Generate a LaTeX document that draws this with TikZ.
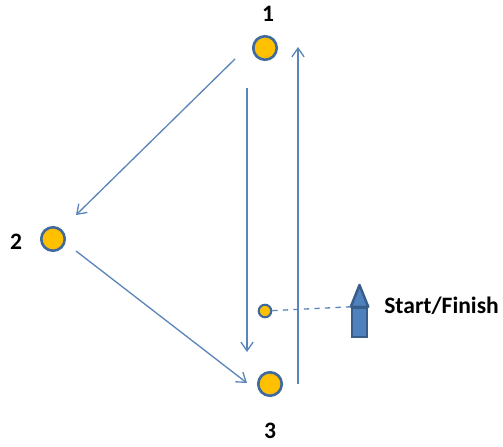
\documentclass[tikz,border=0pt]{standalone}
\usepackage{fontspec}
\setmainfont{Carlito}
\usetikzlibrary{arrows.meta}
\definecolor{legblue}{HTML}{5B85B8}
\definecolor{markline}{HTML}{416A9C}
\definecolor{markfill}{HTML}{FFC000}
\definecolor{boatfill}{HTML}{4F81BD}
\definecolor{boatline}{HTML}{385D8A}
\begin{document}
\begin{tikzpicture}[x=0.02cm,y=-0.02cm,->,>={Straight Barb[length=5pt,width=7pt]},
            leg/.style={legblue,line width=0.75pt},
            mark node/.style={circle,draw=markline,fill=markfill,line width=1.5pt,inner sep=0pt,minimum size=23.5*0.02cm},
            small mark/.style={mark node,line width=1.2pt,minimum size=12.5*0.02cm},
            main node/.style={font=\bfseries\fontsize{13.4}{16}\selectfont,inner sep=0pt},
            boat/.style={draw=boatline,fill=boatfill,line width=1.4pt}]
        \useasboundingbox (0,0) rectangle (503,446);

        % Define marks
        \node[mark node] (mark1) at (265,48) {};
        \node[mark node] (mark2) at (53,239) {};
        \node[mark node] (mark3) at (270,384) {};
        \node[small mark] (start) at (265,311) {};

        % Define labels
        \node[main node] (label1) at (268,14) {1};
        \node[main node] (label2) at (16,242) {2};
        \node[main node] (label3) at (270,431) {3};
        \node[main node,anchor=west] (finish) at (384,306) {Start/Finish};

        % Define boat
        \node[boat,rectangle,inner sep=0pt,minimum width=15*0.02cm,minimum height=29*0.02cm] (hull) at (359.5,322.5) {};
        \draw[boat,-,line join=round] (hull.north west) -- (359.5,285) -- (hull.north east) -- cycle;

        % Define leg ends
        \coordinate (leg1a) at (235,59);
        \coordinate (leg1b) at (76,215);
        \coordinate (leg2a) at (76,251);
        \coordinate (leg2b) at (247,383);
        \coordinate (leg3a) at (247,88);
        \coordinate (leg3b) at (247,352);
        \coordinate (leg4a) at (298,384);
        \coordinate (leg4b) at (298,47);

        % Draw edges
        \path[leg]
            (leg1a) edge (leg1b)
            (leg2a) edge (leg2b)
            (leg3a) edge (leg3b)
            (leg4a) edge (leg4b);
        \draw[leg,-,dashed] (start) -- (hull.north west);

        \end{tikzpicture}
\end{document}
